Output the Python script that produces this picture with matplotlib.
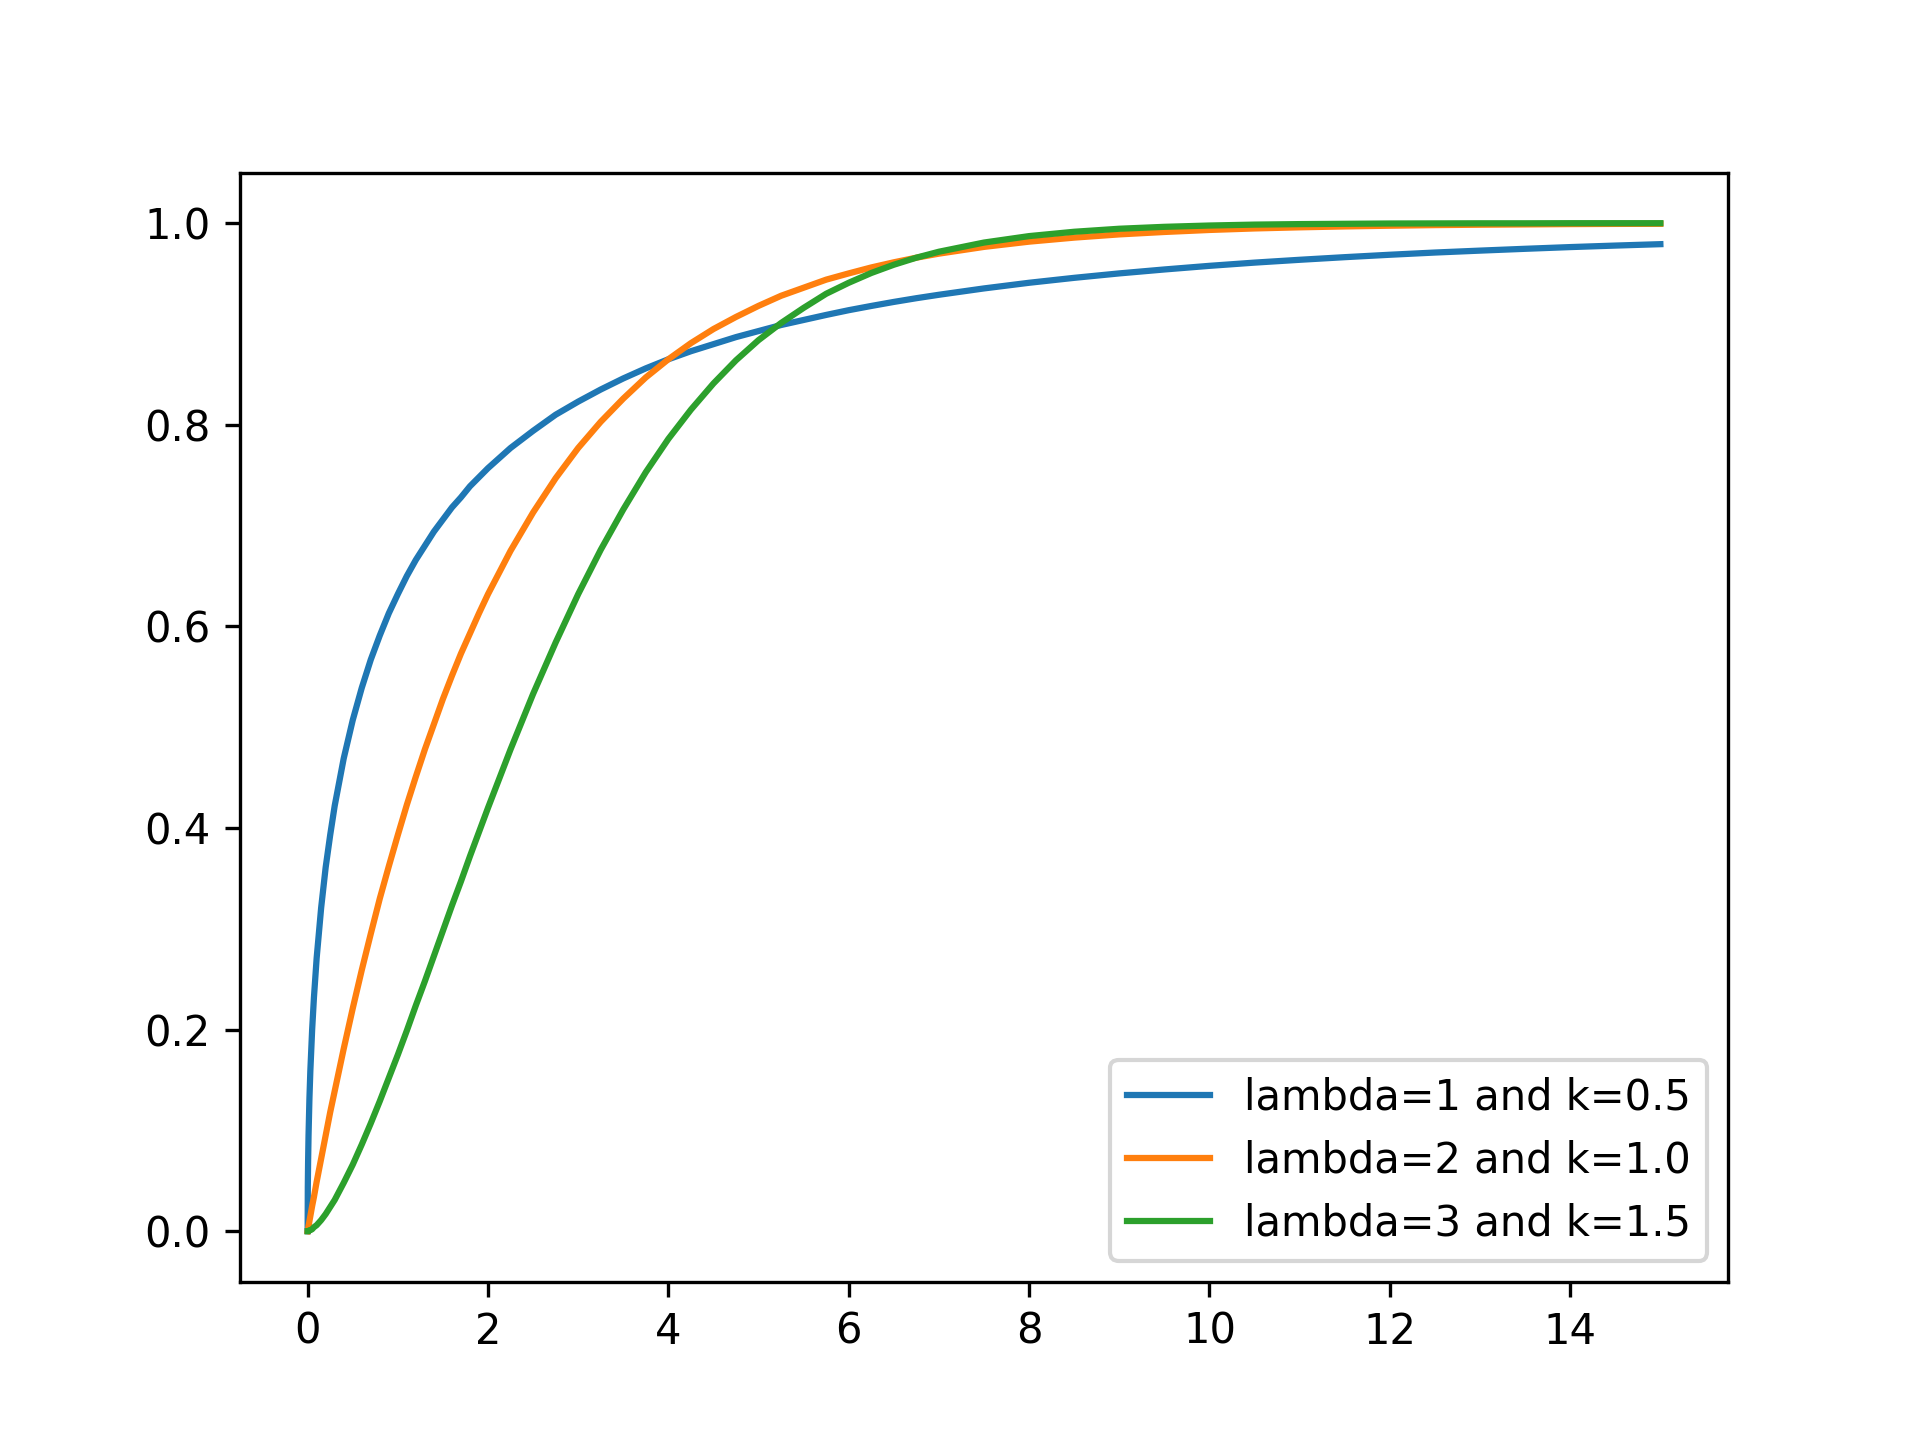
import matplotlib
matplotlib.use("Agg")
import matplotlib.pyplot as plt

x_vals = [0, 0.002, 0.005, 0.01, 0.02, 0.03, 0.05, 0.07, 0.1, 0.15, 0.2, 0.25,
          0.3, 0.4, 0.5, 0.6, 0.7, 0.8, 0.9, 1.0, 1.1, 1.2, 1.3, 1.4, 1.5, 1.6,
          1.7, 1.8, 1.9, 2.0,
          2.25, 2.5, 2.75, 3.0, 3.25, 3.5, 3.75, 4.0, 4.25, 4.5, 4.75, 5.0,
          5.25, 5.5, 5.75, 6.0, 6.25, 6.5, 6.75, 7.0, 7.5, 8.0,
          8.5, 9, 9.5, 10, 10.5, 11, 11.5, 12, 12.5, 13, 13.5, 14, 14.5, 15]

blue_vals = [0, 0.044, 0.068, 0.095, 0.132, 0.159, 0.200, 0.232, 0.271, 0.321,
             0.361, 0.393, 0.422, 0.469, 0.507, 0.539, 0.567, 0.591, 0.613,
             0.632, 0.650, 0.666, 0.680, 0.694, 0.706, 0.718, 0.728, 0.739,
             0.748, 0.757,
             0.777, 0.794, 0.810, 0.823, 0.835, 0.846, 0.856, 0.865, 0.873,
             0.880, 0.887, 0.893, 0.899, 0.904, 0.909, 0.9137, 0.9179, 0.9219,
             0.9256, 0.9290, 0.9353, 0.9409,
             0.9458, 0.9502, 0.9541, 0.9577, 0.9609, 0.9637, 0.9663, 0.9687,
             0.9709, 0.9728, 0.9746, 0.9763, 0.9778, 0.9792]

orange_vals = [0, 0.001, 0.002, 0.005, 0.010, 0.015, 0.025, 0.034, 0.049,
               0.072, 0.095, 0.118, 0.139, 0.181, 0.221, 0.259, 0.295, 0.330,
               0.362, 0.393, 0.423, 0.451, 0.478, 0.503, 0.528, 0.551, 0.573,
               0.593, 0.613, 0.632,
               0.675, 0.713, 0.747, 0.777, 0.803, 0.826, 0.847, 0.865, 0.881,
               0.895, 0.907, 0.918, 0.928, 0.936, 0.944, 0.9502, 0.9561,
               0.9612, 0.9658, 0.9698, 0.9765, 0.9817,
               0.9857, 0.9889, 0.9913, 0.9933, 0.9948, 0.9959, 0.9968, 0.9975,
               0.9981, 0.9985, 0.9988, 0.9991, 0.9993, 0.9994]

green_vals = [0, 0.000, 0.000, 0.000, 0.001, 0.001, 0.002, 0.004, 0.006, 0.011,
              0.017, 0.024, 0.031, 0.048, 0.066, 0.086, 0.107, 0.129, 0.152,
              0.175, 0.199, 0.224, 0.248, 0.273, 0.298, 0.323, 0.347, 0.372,
              0.396, 0.420,
              0.478, 0.533, 0.584, 0.632, 0.676, 0.716, 0.753, 0.786, 0.815,
              0.841, 0.864, 0.884, 0.901, 0.916, 0.930, 0.9409, 0.9506, 0.9588,
              0.9658, 0.9717, 0.9808, 0.9872,
              0.9915, 0.9945, 0.9964, 0.9977, 0.9986, 0.9991, 0.9994, 0.9997,
              0.9998, 0.9999, 0.9999, 1.0000, 1.0000, 1.0000]

labels = ["lambda=1 and k=0.5", "lambda=2 and k=1.0", "lambda=3 and k=1.5"]

fig, ax = plt.subplots(figsize=(6.4, 4.8), dpi=300)
for vals, lab in zip([blue_vals, orange_vals, green_vals], labels):
    ax.plot(x_vals, vals, label=lab)
ax.legend(loc="lower right")
fig.savefig("out.png", dpi=300)
